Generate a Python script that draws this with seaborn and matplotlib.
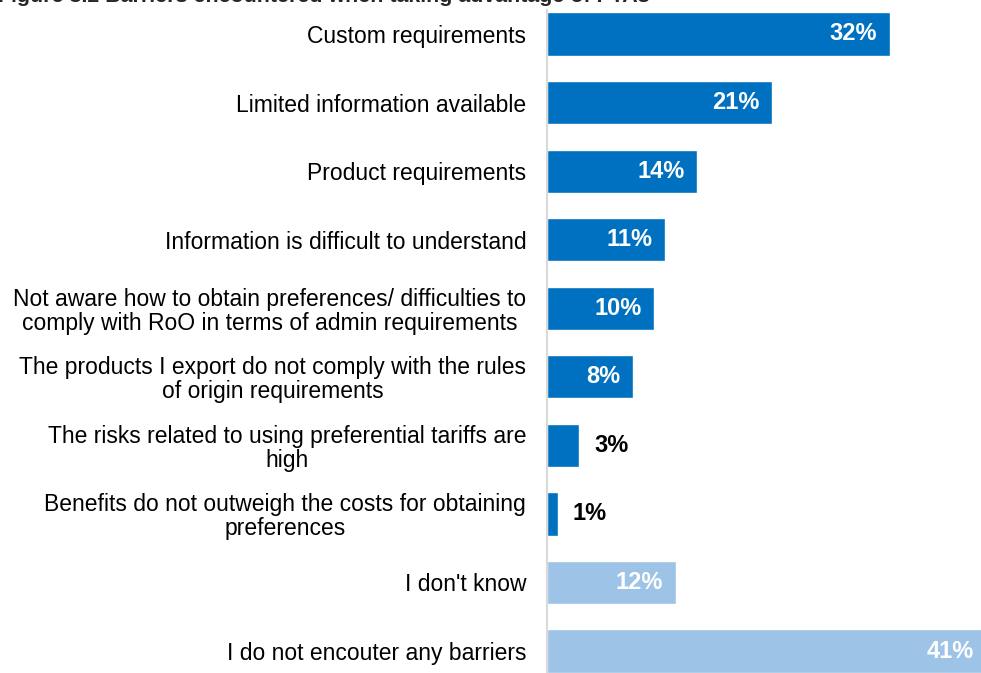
import numpy as np
import pandas as pd
import seaborn as sns
import matplotlib.pyplot as plt

categories = [
    "Custom requirements",
    "Limited information available",
    "Product requirements",
    "Information is difficult to understand",
    "Not aware how to obtain preferences/ difficulties to\ncomply with RoO in terms of admin requirements",
    "The products I export do not comply with the rules\nof origin requirements",
    "The risks related to using preferential tariffs are\nhigh",
    "Benefits do not outweigh the costs for obtaining\npreferences",
    "I don't know",
    "I do not encouter any barriers",
]
values = [32, 21, 14, 11, 10, 8, 3, 1, 12, 41]
groups = ["barrier"] * 8 + ["none"] * 2

df = pd.DataFrame({"label": categories, "pct": values, "group": groups})

sns.set_style("white")
plt.rcParams["font.family"] = ["Liberation Sans", "DejaVu Sans"]

fig = plt.figure(figsize=(9.81, 6.73), dpi=100)
ax = fig.add_axes([547 / 981, 0, 434 / 981, 663 / 673])

sns.barplot(data=df, y="label", x="pct", hue="group", orient="h",
            palette={"barrier": "#0070C0", "none": "#9DC3E6"},
            width=0.63, dodge=False, legend=False, saturation=1, ax=ax)

ax.set_xlim(0, 40.5)
ax.set_ylim(9.32, -0.35)
ax.set_xlabel("")
ax.set_ylabel("")
ax.set_xticks([])
ax.tick_params(axis="y", length=0, pad=15, labelsize=16.5, labelcolor="black")
for t in ax.get_yticklabels():
    t.set_multialignment("center")
    t.set_linespacing(1.05)
for s in ["top", "right", "bottom"]:
    ax.spines[s].set_visible(False)
ax.spines["left"].set_color("#D9D9D9")
ax.spines["left"].set_linewidth(1.5)

for i, v in enumerate(values):
    if v >= 5:
        ax.annotate(f"{v}%", (v, i), xytext=(-9, 0), textcoords="offset points",
                    ha="right", va="center", color="white", fontsize=17,
                    fontweight="bold", annotation_clip=False)
    else:
        ax.annotate(f"{v}%", (v, i), xytext=(11, 0), textcoords="offset points",
                    ha="left", va="center", color="black", fontsize=17,
                    fontweight="bold", annotation_clip=False)

fig.text(-0.002, 1 - 2 / 673, "Figure 3.2 Barriers encountered when taking advantage of PTAs",
         fontsize=15.4, fontweight="bold", va="baseline", ha="left")

fig.savefig("out.png", dpi=100)
